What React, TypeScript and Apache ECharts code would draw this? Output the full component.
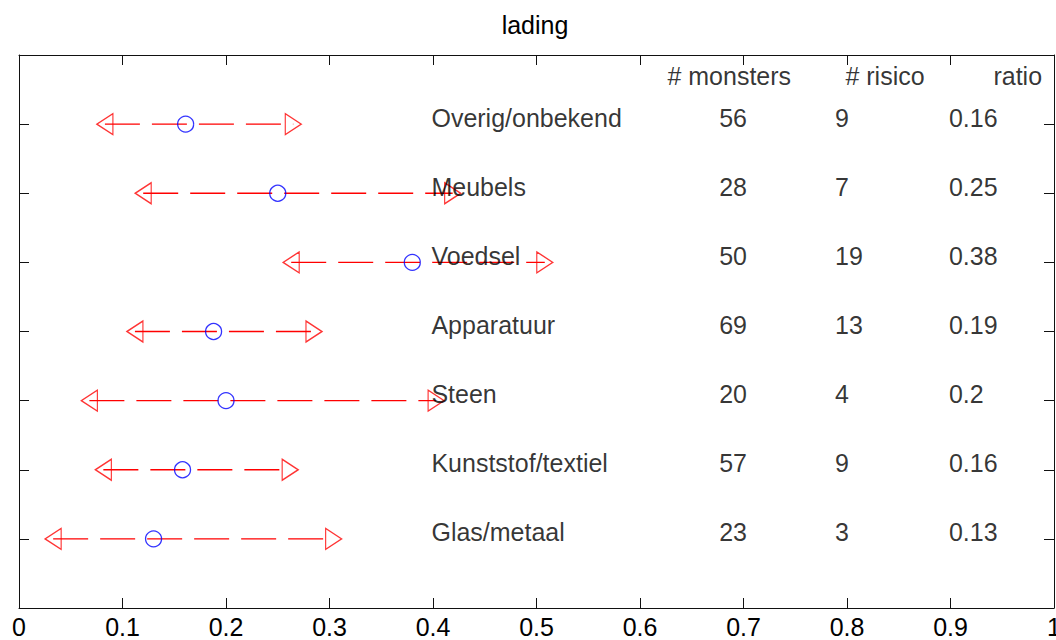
import React, { useEffect, useRef } from "react";
import * as echarts from "echarts";

const categories = ["Overig/onbekend", "Meubels", "Voedsel", "Apparatuur", "Steen", "Kunststof/textiel", "Glas/metaal"];
const rowPos = [7, 6, 5, 4, 3, 2, 1];
const lower = [0.083, 0.12, 0.263, 0.112, 0.068, 0.0815, 0.033];
const estimate = [0.161, 0.25, 0.38, 0.188, 0.2, 0.158, 0.13];
const upper = [0.265, 0.419, 0.508, 0.285, 0.403, 0.262, 0.304];
const monsters = [56, 28, 50, 69, 20, 57, 23];
const risico = [9, 7, 19, 13, 4, 9, 3];
const ratioLabels = ["0.16", "0.25", "0.38", "0.19", "0.2", "0.16", "0.13"];
const headers = ["# monsters", "# risico", "ratio"];
const title = "lading";

const FONT = "'Liberation Sans', Arial, Helvetica, sans-serif";
const FS = 25;
const RED = "#ff0000";
const BLUE = "#0000ff";
const AXIS = "#111111";

// column anchor x positions (data coordinates)
const labelX = 0.398;
const colX = [0.676, 0.788, 0.898];
const headerX = [0.626, 0.798, 0.941];
const headerY = 7.7;
const textDy = 0.094;

function textSeries(points: { value: number[]; name: string }[]) {
  return {
    type: "scatter",
    symbolSize: 1,
    itemStyle: { color: "transparent" },
    z: 5,
    data: points,
    label: {
      show: true,
      position: "right",
      distance: 0,
      formatter: "{b}",
      fontFamily: FONT,
      fontSize: FS,
      color: "#000",
    },
    silent: true,
  };
}

export default function App() {
  const ref = useRef<HTMLDivElement>(null);
  useEffect(() => {
    if (!ref.current) return;
    const chart = echarts.init(ref.current, undefined, { renderer: "svg" });

    const lineSeries = rowPos.map((y, i) => ({
      type: "line",
      data: [
        [lower[i], y],
        [upper[i], y],
      ],
      showSymbol: false,
      symbol: "none",
      lineStyle: { color: RED, width: 1.4, type: [35, 12] },
      z: 2,
      silent: true,
    }));

    const series: any[] = [
      ...lineSeries,
      {
        type: "scatter",
        symbol: "triangle",
        symbolSize: [21, 16],
        symbolRotate: 90,
        itemStyle: { color: "transparent", borderColor: RED, borderWidth: 1.3 },
        data: rowPos.map((y, i) => [lower[i], y]),
        z: 3,
      },
      {
        type: "scatter",
        symbol: "triangle",
        symbolSize: [21, 16],
        symbolRotate: -90,
        itemStyle: { color: "transparent", borderColor: RED, borderWidth: 1.3 },
        data: rowPos.map((y, i) => [upper[i], y]),
        z: 3,
      },
      {
        type: "scatter",
        symbol: "circle",
        symbolSize: 16,
        itemStyle: { color: "transparent", borderColor: BLUE, borderWidth: 1.3 },
        data: rowPos.map((y, i) => [estimate[i], y]),
        z: 4,
      },
      textSeries(categories.map((c, i) => ({ value: [labelX, rowPos[i] + textDy], name: c }))),
      textSeries(monsters.map((v, i) => ({ value: [colX[0], rowPos[i] + textDy], name: String(v) }))),
      textSeries(risico.map((v, i) => ({ value: [colX[1], rowPos[i] + textDy], name: String(v) }))),
      textSeries(ratioLabels.map((v, i) => ({ value: [colX[2], rowPos[i] + textDy], name: v }))),
      textSeries(headers.map((h, i) => ({ value: [headerX[i], headerY], name: h }))),
    ];

    const axisCommon = {
      axisLine: { show: true, onZero: false, lineStyle: { color: AXIS, width: 1 } },
      axisTick: { show: true, inside: true, length: 10, lineStyle: { color: AXIS, width: 1 } },
      splitLine: { show: false },
    };

    chart.setOption({
      animation: false,
      backgroundColor: "#ffffff",
      grid: { left: 19, top: 55, right: 2, bottom: 32, containLabel: false, outerBoundsMode: "none" },
      xAxis: [
        {
          type: "value",
          min: 0,
          max: 1,
          interval: 0.1,
          position: "bottom",
          ...axisCommon,
          axisLabel: {
            show: true,
            margin: 6,
            fontFamily: FONT,
            fontSize: FS,
            color: "#000",
            showMaxLabel: true,
            showMinLabel: true,
            hideOverlap: false,
          },
        },
        {
          type: "value",
          min: 0,
          max: 1,
          interval: 0.1,
          position: "top",
          ...axisCommon,
          axisLabel: { show: false },
        },
      ],
      yAxis: [
        {
          type: "value",
          min: 0,
          max: 8,
          interval: 1,
          position: "left",
          ...axisCommon,
          axisLabel: { show: false },
        },
        {
          type: "value",
          min: 0,
          max: 8,
          interval: 1,
          position: "right",
          ...axisCommon,
          axisLabel: { show: false },
        },
      ],
      graphic: [
        {
          type: "text",
          x: 535,
          y: 25,
          style: {
            text: title,
            align: "center",
            verticalAlign: "middle",
            fontFamily: FONT,
            fontSize: FS,
            fill: "#000",
          },
        },
      ],
      series,
    });

    return () => chart.dispose();
  }, []);

  return (
    <div
      ref={ref}
      style={{ position: "fixed", left: 0, top: 0, width: 1056, height: 640, background: "#fff" }}
    />
  );
}
